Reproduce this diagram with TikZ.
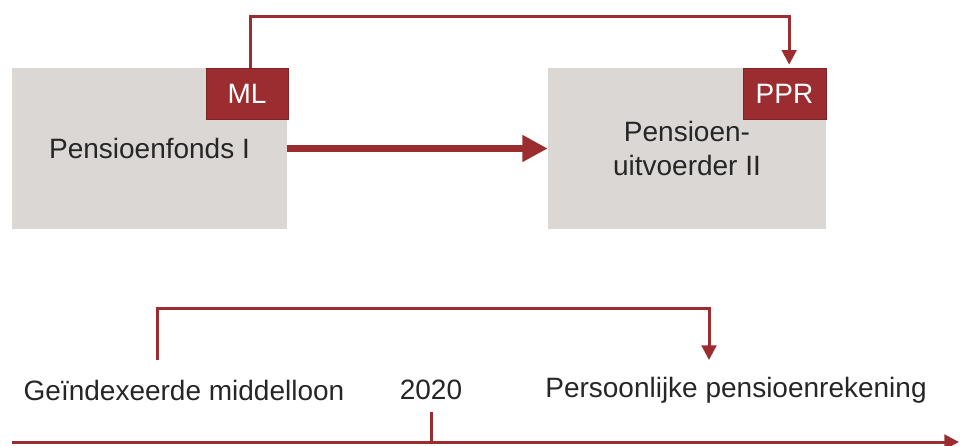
\documentclass[tikz,border=0pt]{standalone}
\usepackage{fontspec}
\setmainfont{Liberation Sans}
\usetikzlibrary{arrows.meta}

\definecolor{pensred}{HTML}{9B2D30}
\definecolor{pensgray}{HTML}{DAD7D4}
\definecolor{penstext}{HTML}{262626}

\begin{document}
\begin{tikzpicture}[x=0.75pt, y=-0.75pt,
    every node/.style={font=\fontsize{21}{26}\selectfont, text=penstext},
    fundbox/.style={fill=pensgray, minimum width=206.25pt, minimum height=120.75pt, align=center, inner sep=0pt},
    tagbox/.style={fill=pensred, draw=pensred!80!black, line width=0.75pt, text=white, minimum width=61.5pt, minimum height=38.25pt, inner sep=0pt},
    link/.style={draw=pensred, line width=2.25pt},
    linkarrow/.style={link, -{Triangle[length=11pt, width=11pt]}},
    bigarrow/.style={draw=pensred, line width=5pt, -{Triangle[length=19pt, width=19pt]}}]
%  \draw [step=10,color=gray] (0,0) grid (960,446);
  \useasboundingbox (0,0) rectangle (960,446);

  % boxes
  \node[fundbox] (F1) at (149.5,148.5) {\raisebox{-3pt}{Pensioenfonds I}};
  \node[fundbox, minimum width=208.5pt] (F2) at (687,148.5) {Pensioen-\\uitvoerder II};
  \node[tagbox] (ML) at (247,94) {ML};
  \node[tagbox, minimum width=62.25pt] (PPR) at (784.5,94) {PPR};

  \path (500,16) coordinate (TopRun);
  \draw[linkarrow, shorten >=2.5pt] ([xshift=2.25pt]ML.north) |- (TopRun) -| ([xshift=3.5pt]PPR.north);
  \draw[bigarrow] (F1.east) -- (F2.west);

  % timeline
  \node (GM) at (184,390) {Geïndexeerde middelloon};
  \node (Y2020) at (431,390) {2020};
  \node (PR) at (736,390) {Persoonlijke pensioenrekening};

  \path (157,360) coordinate (B1);
  \path (709,360) coordinate (B2);
  \path (500,308) coordinate (BottomRun);
  \draw[linkarrow] (B1) |- (BottomRun) -| (B2);

  \path (12,442) coordinate (T0);
  \path (959,442) coordinate (T1);
  \draw[linkarrow] (T0) -- (T1);
  \draw[link] (431,412) -- (Y2020 |- T0);

\end{tikzpicture}
\end{document}
